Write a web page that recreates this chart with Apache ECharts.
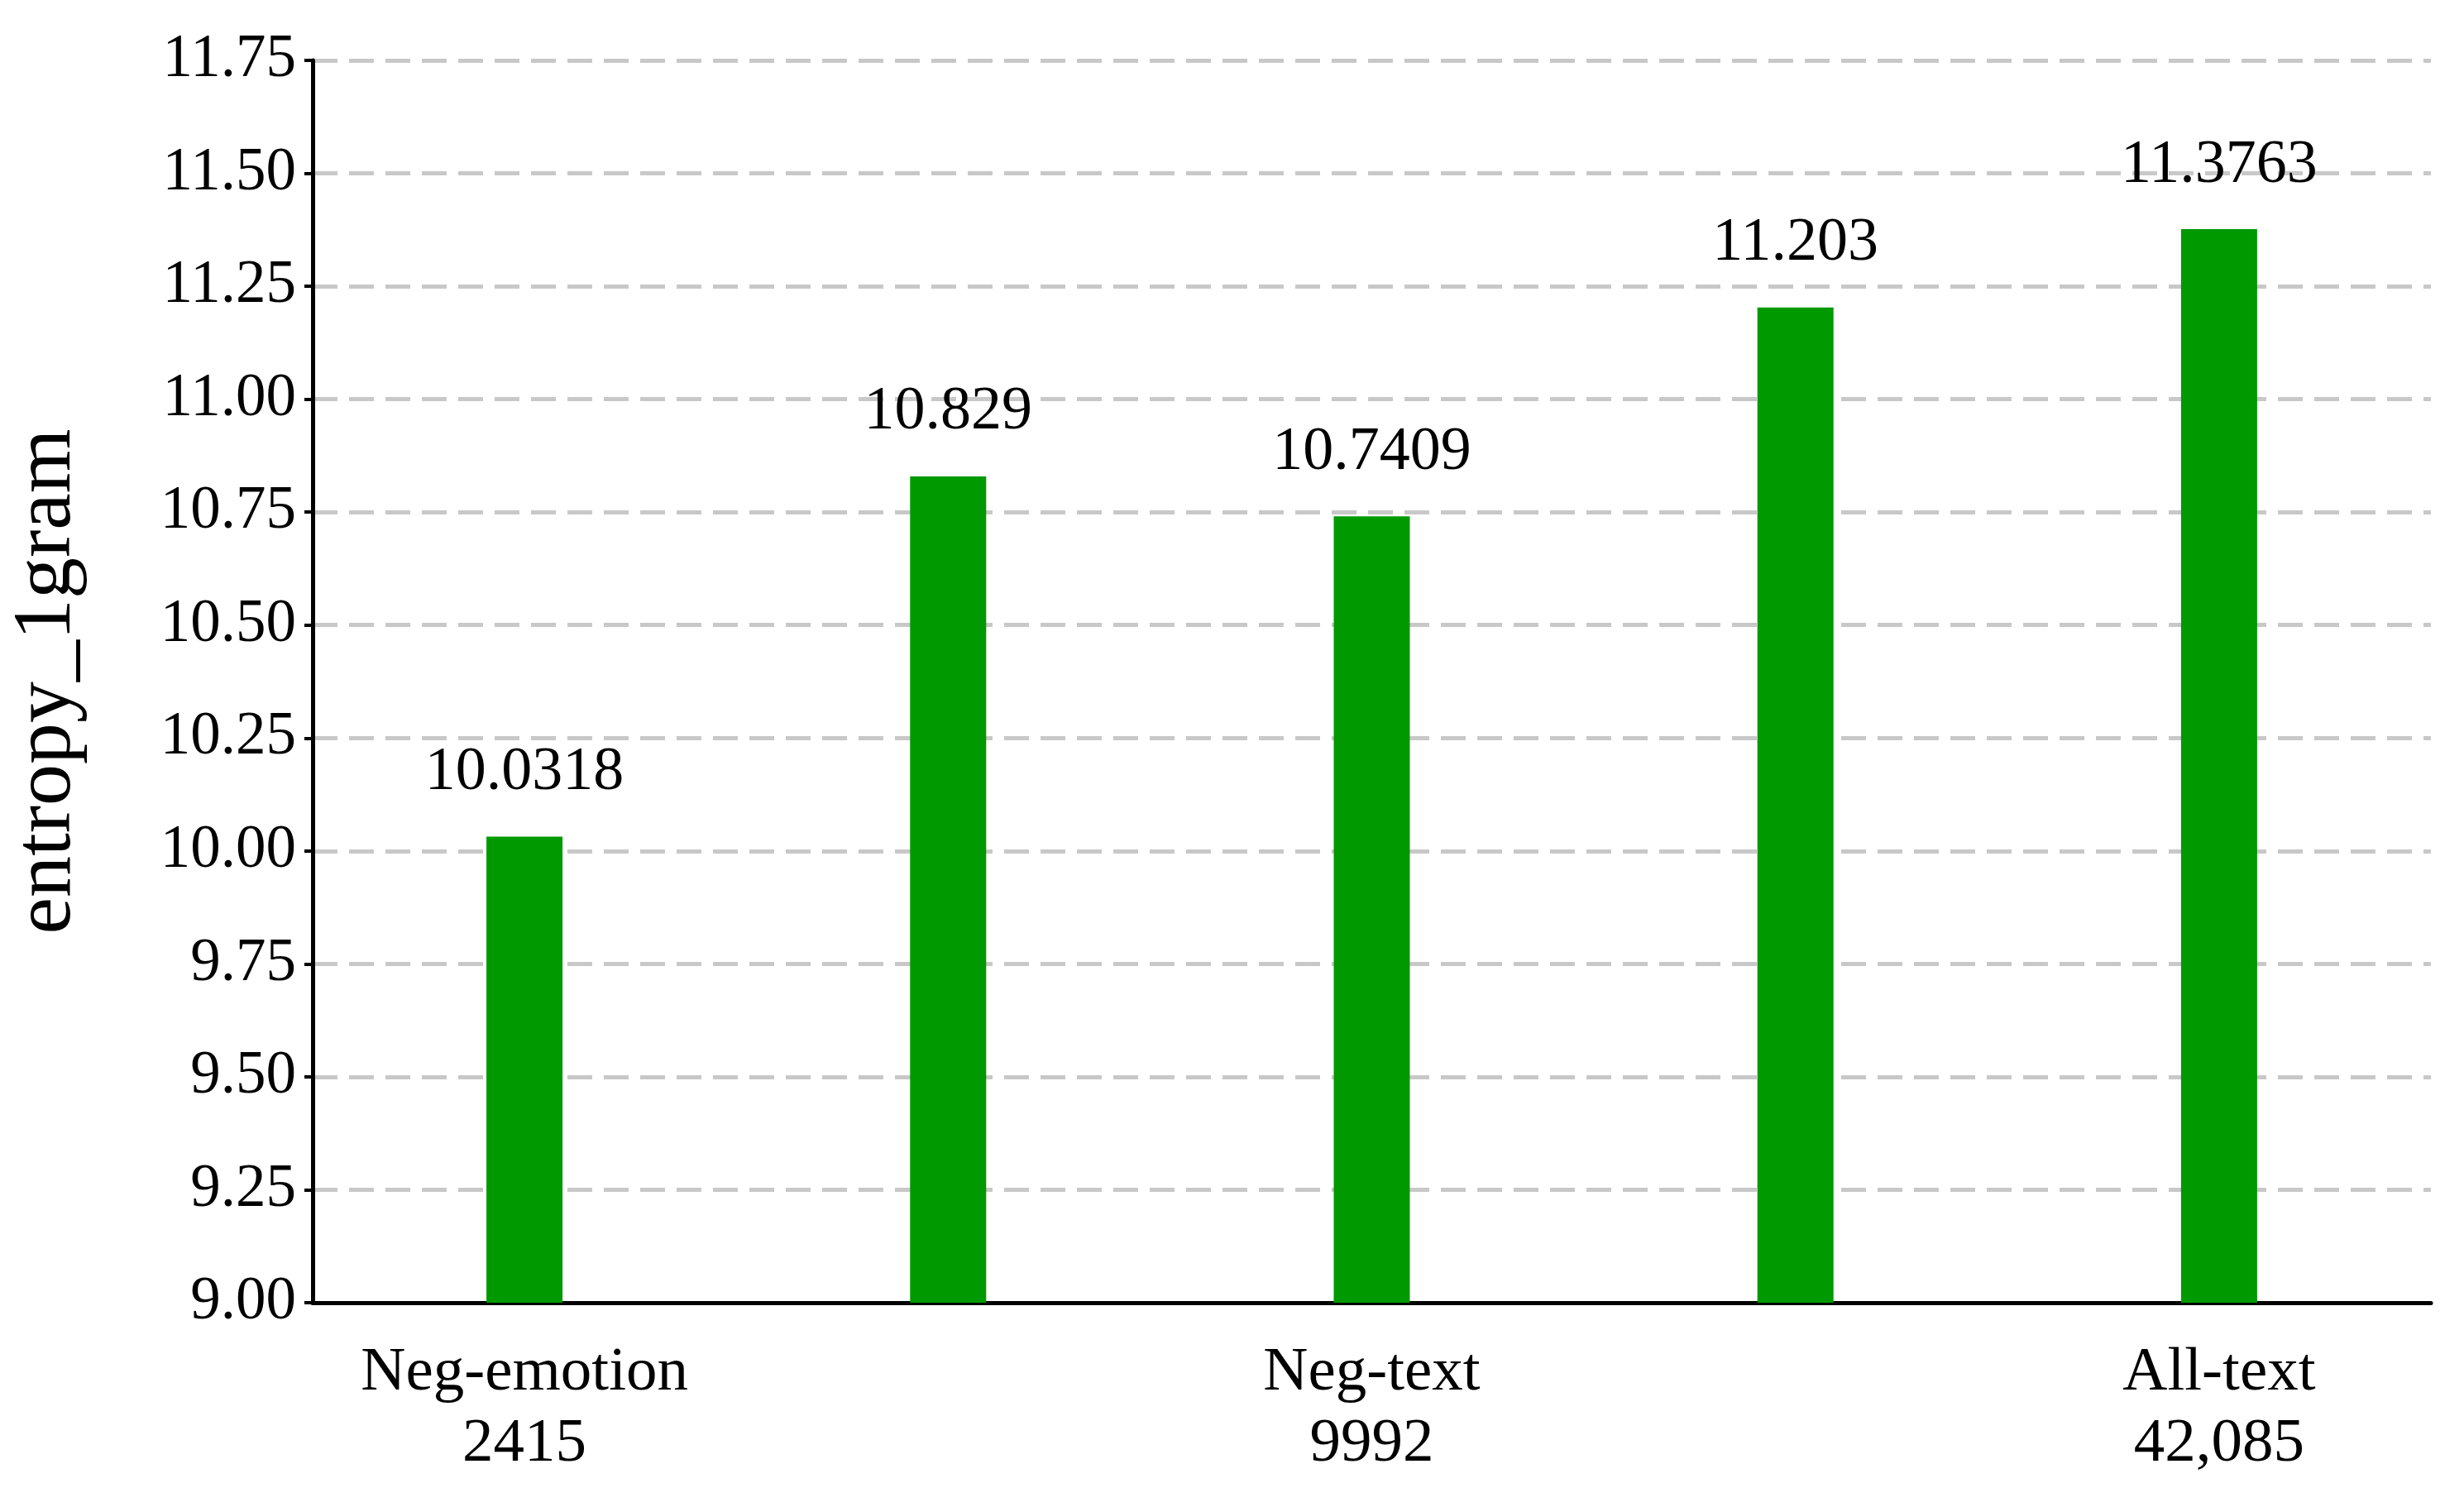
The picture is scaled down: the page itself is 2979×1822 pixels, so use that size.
<!DOCTYPE html>
<html>
<head>
<meta charset="utf-8">
<script src="https://cdn.jsdelivr.net/npm/echarts@6/dist/echarts.min.js"></script>
<style>html,body{margin:0;padding:0;background:#fff}#chart{width:2979px;height:1822px}</style>
</head>
<body>
<div id="chart"></div>
<script>
var categories = ['Neg-emotion\n2415', 'Pos-emotion\n9534', 'Neg-text\n9992', 'Pos-text\n36,375', 'All-text\n42,085'];
var values = [10.0318, 10.829, 10.7409, 11.203, 11.3763];
var labels = ['10.0318', '10.829', '10.7409', '11.203', '11.3763'];

var chart = echarts.init(document.getElementById('chart'));
var font = 'Liberation Serif';
chart.setOption({
	backgroundColor: '#ffffff',
	animation: false,
	grid: { left: 376, right: 40, top: 73, bottom: 247 },
	xAxis: {
		type: 'category',
		data: categories,
		axisLine: { lineStyle: { color: '#000', width: 5 } },
		axisTick: { alignWithLabel: true, length: 12, lineStyle: { color: '#000', width: 4 } },
		axisLabel: { fontFamily: font, fontSize: 75, color: '#000', lineHeight: 86, margin: 42 }
	},
	yAxis: {
		type: 'value',
		min: 9, max: 11.75, interval: 0.25,
		name: 'entropy_1gram',
		nameLocation: 'middle',
		nameGap: 270,
		nameTextStyle: { fontFamily: font, fontSize: 100, color: '#000' },
		axisLine: { show: true, lineStyle: { color: '#000', width: 5 } },
		axisTick: { show: true, length: 10, lineStyle: { color: '#000', width: 4 } },
		axisLabel: { fontFamily: font, fontSize: 73, color: '#000', margin: 20,
			formatter: function (v) { return v.toFixed(2); } },
		splitLine: { lineStyle: { color: '#c8c8c8', width: 5, type: [30, 14] } }
	},
	series: [{
		type: 'bar',
		data: values,
		barWidth: 92,
		itemStyle: { color: '#009900' },
		label: {
			show: true, position: 'top', distance: 40,
			fontFamily: font, fontSize: 74, color: '#000',
			formatter: function (p) { return labels[p.dataIndex]; }
		}
	}]
});
</script>
</body>
</html>
